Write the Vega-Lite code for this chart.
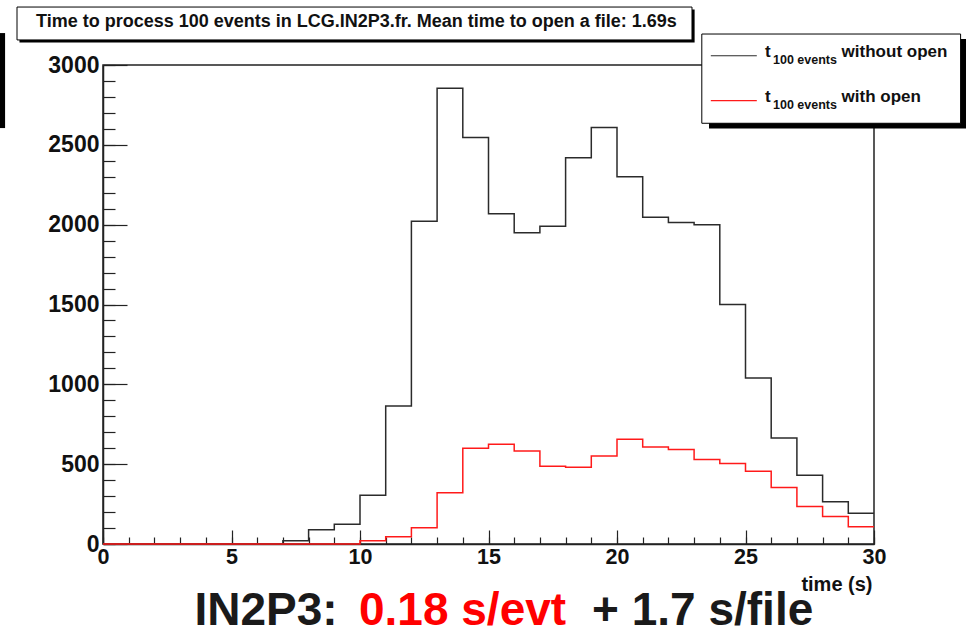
{
  "$schema": "https://vega.github.io/schema/vega-lite/v6.json",
  "description": "Time to process 100 events in LCG.IN2P3.fr",
  "width": 771,
  "height": 479,
  "autosize": {"type": "none"},
  "padding": {"left": 103, "top": 65, "right": 95, "bottom": 90},
  "background": "white",
  "config": {
    "view": {"stroke": "#222222", "strokeWidth": 1.5},
    "font": "Liberation Sans",
    "axis": {
      "grid": false,
      "domainColor": "#222222",
      "domainWidth": 1.5,
      "tickColor": "#222222",
      "tickWidth": 1.2,
      "labelFont": "Liberation Sans",
      "labelFontWeight": "bold",
      "labelColor": "#111111",
      "labelFlush": false,
      "labelOverlap": false,
      "labelBound": false
    }
  },
  "datasets": {
    "without": [
      {"time": 0, "count": 0}, {"time": 1, "count": 0}, {"time": 2, "count": 0},
      {"time": 3, "count": 0}, {"time": 4, "count": 0}, {"time": 5, "count": 0},
      {"time": 6, "count": 0}, {"time": 7, "count": 20}, {"time": 8, "count": 90},
      {"time": 9, "count": 123}, {"time": 10, "count": 306}, {"time": 11, "count": 865},
      {"time": 12, "count": 2021}, {"time": 13, "count": 2855}, {"time": 14, "count": 2546},
      {"time": 15, "count": 2069}, {"time": 16, "count": 1950}, {"time": 17, "count": 1990},
      {"time": 18, "count": 2419}, {"time": 19, "count": 2608}, {"time": 20, "count": 2300},
      {"time": 21, "count": 2046}, {"time": 22, "count": 2013}, {"time": 23, "count": 2000},
      {"time": 24, "count": 1500}, {"time": 25, "count": 1040}, {"time": 26, "count": 664},
      {"time": 27, "count": 431}, {"time": 28, "count": 264}, {"time": 29, "count": 192},
      {"time": 30, "count": 192}
    ],
    "with": [
      {"time": 0, "count": 0}, {"time": 1, "count": 0}, {"time": 2, "count": 0},
      {"time": 3, "count": 0}, {"time": 4, "count": 0}, {"time": 5, "count": 0},
      {"time": 6, "count": 0}, {"time": 7, "count": 0}, {"time": 8, "count": 0},
      {"time": 9, "count": 0}, {"time": 10, "count": 20}, {"time": 11, "count": 46},
      {"time": 12, "count": 102}, {"time": 13, "count": 321}, {"time": 14, "count": 600},
      {"time": 15, "count": 625}, {"time": 16, "count": 583}, {"time": 17, "count": 487},
      {"time": 18, "count": 481}, {"time": 19, "count": 551}, {"time": 20, "count": 656},
      {"time": 21, "count": 608}, {"time": 22, "count": 592}, {"time": 23, "count": 529},
      {"time": 24, "count": 504}, {"time": 25, "count": 456}, {"time": 26, "count": 354},
      {"time": 27, "count": 235}, {"time": 28, "count": 173}, {"time": 29, "count": 108},
      {"time": 30, "count": 108}
    ]
  },
  "layer": [
    {
      "data": {"name": "without"},
      "mark": {"type": "line", "interpolate": "step-after", "color": "#2b2b2b", "strokeWidth": 1.5},
      "encoding": {
        "x": {
          "field": "time",
          "type": "quantitative",
          "scale": {"domain": [0, 30], "nice": false},
          "axis": {
            "orient": "bottom",
            "values": [0, 5, 10, 15, 20, 25, 30],
            "format": "d",
            "tickSize": -14,
            "labelFontSize": 21.5,
            "labelPadding": 16,
            "title": "time (s)",
            "titleFont": "Liberation Sans",
            "titleFontSize": 20,
            "titleFontWeight": "bold",
            "titleColor": "#111111",
            "titleAnchor": "end",
            "titleAlign": "right",
            "titleBaseline": "alphabetic",
            "titleX": 769,
            "titleY": 46
          }
        },
        "y": {
          "field": "count",
          "type": "quantitative",
          "scale": {"domain": [0, 3000], "nice": false},
          "axis": {
            "orient": "left",
            "values": [0, 500, 1000, 1500, 2000, 2500, 3000],
            "format": "d",
            "tickSize": -24,
            "labelFontSize": 23,
            "labelPadding": 28,
            "title": null
          }
        }
      }
    },
    {
      "data": {"name": "with"},
      "mark": {"type": "line", "interpolate": "step-after", "color": "#ff1a1a", "strokeWidth": 1.5},
      "encoding": {
        "x": {
          "field": "time",
          "type": "quantitative",
          "axis": {
            "orient": "bottom",
            "values": [0, 1, 2, 3, 4, 5, 6, 7, 8, 9, 10, 11, 12, 13, 14, 15, 16, 17, 18, 19, 20, 21, 22, 23, 24, 25, 26, 27, 28, 29, 30],
            "tickSize": -7,
            "labels": false,
            "domain": false,
            "title": null
          }
        },
        "y": {
          "field": "count",
          "type": "quantitative",
          "axis": {
            "orient": "left",
            "values": [0, 100, 200, 300, 400, 500, 600, 700, 800, 900, 1000, 1100, 1200, 1300, 1400, 1500, 1600, 1700, 1800, 1900, 2000, 2100, 2200, 2300, 2400, 2500, 2600, 2700, 2800, 2900, 3000],
            "tickSize": -12,
            "labels": false,
            "domain": false,
            "title": null
          }
        }
      }
    },
    {
      "data": {"values": [{}]},
      "mark": {"type": "rect", "color": "black", "clip": false},
      "encoding": {
        "x": {"datum": -4.01, "axis": null},
        "x2": {"datum": -3.81},
        "y": {"datum": 3200, "axis": null},
        "y2": {"datum": 2605}
      }
    },
    {
      "data": {"values": [{}]},
      "mark": {"type": "rect", "color": "black", "clip": false},
      "encoding": {
        "x": {"datum": -3.25, "axis": null},
        "x2": {"datum": 23.02},
        "y": {"datum": 3347, "axis": null},
        "y2": {"datum": 3141}
      }
    },
    {
      "data": {"values": [{}]},
      "mark": {"type": "rect", "fill": "white", "stroke": "black", "strokeWidth": 1, "clip": false},
      "encoding": {
        "x": {"datum": -3.346, "axis": null},
        "x2": {"datum": 22.918},
        "y": {"datum": 3363, "axis": null},
        "y2": {"datum": 3157}
      }
    },
    {
      "data": {"values": [{}]},
      "mark": {"type": "text", "font": "Liberation Sans", "fontWeight": "bold", "fontSize": 18, "align": "center", "baseline": "alphabetic", "color": "#111111", "clip": false},
      "encoding": {
        "x": {"datum": 9.86, "axis": null},
        "y": {"datum": 3236, "axis": null},
        "text": {"value": "Time to process 100 events in LCG.IN2P3.fr. Mean time to open a file: 1.69s"}
      }
    },
    {
      "data": {"values": [{}]},
      "mark": {"type": "rect", "color": "black", "clip": false},
      "encoding": {
        "x": {"datum": 23.58, "axis": null},
        "x2": {"datum": 33.58},
        "y": {"datum": 3163, "axis": null},
        "y2": {"datum": 2603}
      }
    },
    {
      "data": {"values": [{}]},
      "mark": {"type": "rect", "fill": "white", "stroke": "black", "strokeWidth": 1, "clip": false},
      "encoding": {
        "x": {"datum": 23.30, "axis": null},
        "x2": {"datum": 33.37},
        "y": {"datum": 3194, "axis": null},
        "y2": {"datum": 2635}
      }
    },
    {
      "data": {"values": [{}]},
      "mark": {"type": "rule", "color": "#2b2b2b", "strokeWidth": 1.2, "clip": false},
      "encoding": {
        "x": {"datum": 23.65, "axis": null},
        "x2": {"datum": 25.44},
        "y": {"datum": 3058, "axis": null}
      }
    },
    {
      "data": {"values": [{}]},
      "mark": {"type": "rule", "color": "#ff1a1a", "strokeWidth": 1.2, "clip": false},
      "encoding": {
        "x": {"datum": 23.65, "axis": null},
        "x2": {"datum": 25.44},
        "y": {"datum": 2777, "axis": null}
      }
    },
    {
      "data": {"values": [{}]},
      "mark": {"type": "text", "font": "Liberation Sans", "fontWeight": "bold", "fontSize": 17, "align": "left", "baseline": "alphabetic", "color": "#111111", "clip": false},
      "encoding": {
        "x": {"datum": 25.76, "axis": null},
        "y": {"datum": 3050, "axis": null},
        "text": {"value": "t"}
      }
    },
    {
      "data": {"values": [{}]},
      "mark": {"type": "text", "font": "Liberation Sans", "fontWeight": "bold", "fontSize": 12.5, "align": "left", "baseline": "alphabetic", "color": "#111111", "clip": false},
      "encoding": {
        "x": {"datum": 26.07, "axis": null},
        "y": {"datum": 3006, "axis": null},
        "text": {"value": "100 events"}
      }
    },
    {
      "data": {"values": [{}]},
      "mark": {"type": "text", "font": "Liberation Sans", "fontWeight": "bold", "fontSize": 17, "align": "left", "baseline": "alphabetic", "color": "#111111", "clip": false},
      "encoding": {
        "x": {"datum": 28.74, "axis": null},
        "y": {"datum": 3050, "axis": null},
        "text": {"value": "without open"}
      }
    },
    {
      "data": {"values": [{}]},
      "mark": {"type": "text", "font": "Liberation Sans", "fontWeight": "bold", "fontSize": 17, "align": "left", "baseline": "alphabetic", "color": "#111111", "clip": false},
      "encoding": {
        "x": {"datum": 25.76, "axis": null},
        "y": {"datum": 2769, "axis": null},
        "text": {"value": "t"}
      }
    },
    {
      "data": {"values": [{}]},
      "mark": {"type": "text", "font": "Liberation Sans", "fontWeight": "bold", "fontSize": 12.5, "align": "left", "baseline": "alphabetic", "color": "#111111", "clip": false},
      "encoding": {
        "x": {"datum": 26.07, "axis": null},
        "y": {"datum": 2724, "axis": null},
        "text": {"value": "100 events"}
      }
    },
    {
      "data": {"values": [{}]},
      "mark": {"type": "text", "font": "Liberation Sans", "fontWeight": "bold", "fontSize": 17, "align": "left", "baseline": "alphabetic", "color": "#111111", "clip": false},
      "encoding": {
        "x": {"datum": 28.74, "axis": null},
        "y": {"datum": 2769, "axis": null},
        "text": {"value": "with open"}
      }
    },
    {
      "data": {"values": [{}]},
      "mark": {"type": "text", "font": "Liberation Sans", "fontWeight": "bold", "fontSize": 46, "align": "left", "baseline": "alphabetic", "color": "#1a1a1a", "clip": false},
      "encoding": {
        "x": {"datum": 3.56, "axis": null},
        "y": {"datum": -507, "axis": null},
        "text": {"value": "IN2P3:"}
      }
    },
    {
      "data": {"values": [{}]},
      "mark": {"type": "text", "font": "Liberation Sans", "fontWeight": "bold", "fontSize": 46, "align": "left", "baseline": "alphabetic", "color": "#ff0000", "clip": false},
      "encoding": {
        "x": {"datum": 9.96, "axis": null},
        "y": {"datum": -507, "axis": null},
        "text": {"value": "0.18 s/evt"}
      }
    },
    {
      "data": {"values": [{}]},
      "mark": {"type": "text", "font": "Liberation Sans", "fontWeight": "bold", "fontSize": 46, "align": "left", "baseline": "alphabetic", "color": "#1a1a1a", "clip": false},
      "encoding": {
        "x": {"datum": 19.03, "axis": null},
        "y": {"datum": -507, "axis": null},
        "text": {"value": "+ 1.7 s/file"}
      }
    }
  ],
  "resolve": {"axis": {"x": "independent", "y": "independent"}}
}
